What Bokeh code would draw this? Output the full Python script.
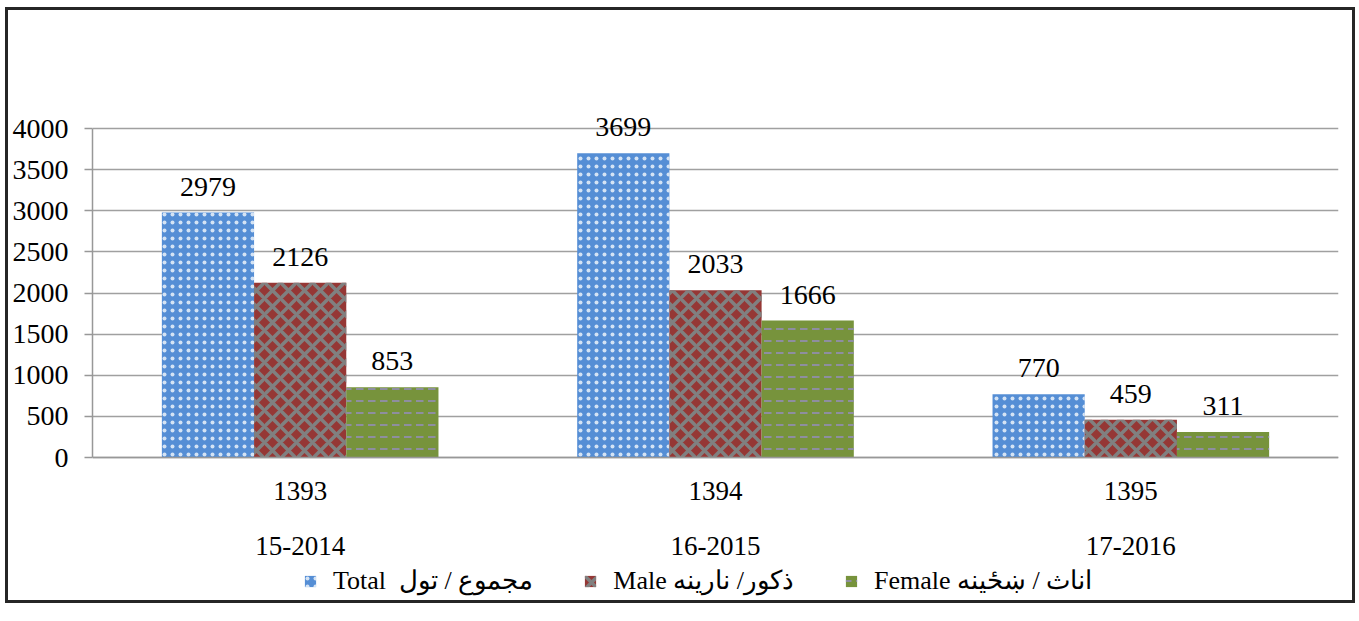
from bokeh.plotting import figure
from bokeh.models import FactorRange, ColumnDataSource, Legend, LegendItem, LabelSet, FixedTicker, CategoricalAxis
from bokeh.transform import dodge
from bokeh.core.properties import value
from bokeh.embed import file_html
from bokeh.resources import INLINE

years = ["1393", "1394", "1395"]
years_gregorian = ["15-2014", "16-2015", "17-2016"]
total = [2979, 3699, 770]
male = [2126, 2033, 459]
female = [853, 1666, 311]
series_labels = ["Total  مجموع / تول", "Male ذکور/ نارینه", "Female اناث / ښځینه"]
y_ticks = [0, 500, 1000, 1500, 2000, 2500, 3000, 3500, 4000]

src = ColumnDataSource(dict(cat=years, total=total, male=male, female=female,
                            total_t=[str(v) for v in total],
                            male_t=[str(v) for v in male],
                            female_t=[str(v) for v in female]))

FONT = "Liberation Serif"

p = figure(x_range=FactorRange(*years, range_padding=0), y_range=(-1739, 4500),
           width=1350, height=616, frame_width=1246, frame_height=513,
           output_backend="svg", toolbar_location=None,
           min_border_left=84, min_border_right=14, min_border_top=77, min_border_bottom=0)
p.extra_x_ranges = {"greg": FactorRange(*years_gregorian, range_padding=0)}
p.styles = {"border": "3px solid #262626", "margin-left": "5px", "margin-top": "7px"}
p.outline_line_color = None
p.background_fill_color = "white"

w = 0.222
r1 = p.vbar(x=dodge("cat", -w, range=p.x_range), top="total", width=w, source=src,
            fill_color="#558ED5", line_color=None,
            hatch_pattern=".", hatch_color="white", hatch_scale=8, hatch_alpha=0.75)
r2 = p.vbar(x=dodge("cat", 0, range=p.x_range), top="male", width=w, source=src,
            fill_color="#953735", line_color=None,
            hatch_pattern="x", hatch_color="#808080", hatch_scale=16, hatch_weight=3.5)
r3 = p.vbar(x=dodge("cat", w, range=p.x_range), top="female", width=w, source=src,
            fill_color="#77933C", line_color=None,
            hatch_pattern='"', hatch_color="#8e8ea0", hatch_scale=12, hatch_weight=2)

for col, off in (("total", -w), ("male", 0), ("female", w)):
    p.add_layout(LabelSet(x=dodge("cat", off, range=p.x_range), y=col, text=col + "_t", source=src,
                          text_align="center", text_baseline="bottom", y_offset=17,
                          text_font=value(FONT), text_font_size="28px", text_color="black"))

p.yaxis.ticker = FixedTicker(ticks=y_ticks)
p.yaxis.bounds = (0, 4000)
p.yaxis.axis_line_color = "#989898"
p.yaxis.axis_line_width = 1.5
p.yaxis.major_tick_line_color = "#989898"
p.yaxis.major_tick_line_width = 1.5
p.yaxis.major_tick_out = 8
p.yaxis.major_tick_in = 0
p.yaxis.minor_tick_line_color = None
p.yaxis.major_label_text_font = FONT
p.yaxis.major_label_text_font_size = "28px"
p.yaxis.major_label_text_color = "black"
p.yaxis.major_label_standoff = 16

p.xaxis.fixed_location = 0
p.xaxis.axis_line_color = "#989898"
p.xaxis.axis_line_width = 1.5
p.xaxis.major_tick_line_color = None
p.xaxis.minor_tick_line_color = None
p.xaxis.major_label_text_font = FONT
p.xaxis.major_label_text_font_size = "27px"
p.xaxis.major_label_text_color = "black"
p.xaxis.major_label_standoff = 18

ax2 = CategoricalAxis(x_range_name="greg", fixed_location=0,
                      axis_line_color=None, major_tick_line_color=None, minor_tick_line_color=None,
                      major_label_text_font=FONT, major_label_text_font_size="27px",
                      major_label_text_color="black", major_label_standoff=73)
p.add_layout(ax2, "below")

p.xgrid.grid_line_color = None
p.ygrid.ticker = FixedTicker(ticks=y_ticks)
p.ygrid.grid_line_color = "#a0a0a0"
p.ygrid.grid_line_width = 1.5

legend = Legend(items=[LegendItem(label=series_labels[0], renderers=[r1]),
                       LegendItem(label=series_labels[1], renderers=[r2]),
                       LegendItem(label=series_labels[2], renderers=[r3])],
                orientation="horizontal", location=(211, 4),
                label_text_font=FONT, label_text_font_size="26px", label_text_color="black",
                label_height=20, glyph_width=14, glyph_height=14, label_standoff=16, spacing=50,
                border_line_color=None, background_fill_alpha=0, padding=0, margin=0)
p.add_layout(legend, "center")

open("out.html", "w").write(file_html(p, INLINE))
